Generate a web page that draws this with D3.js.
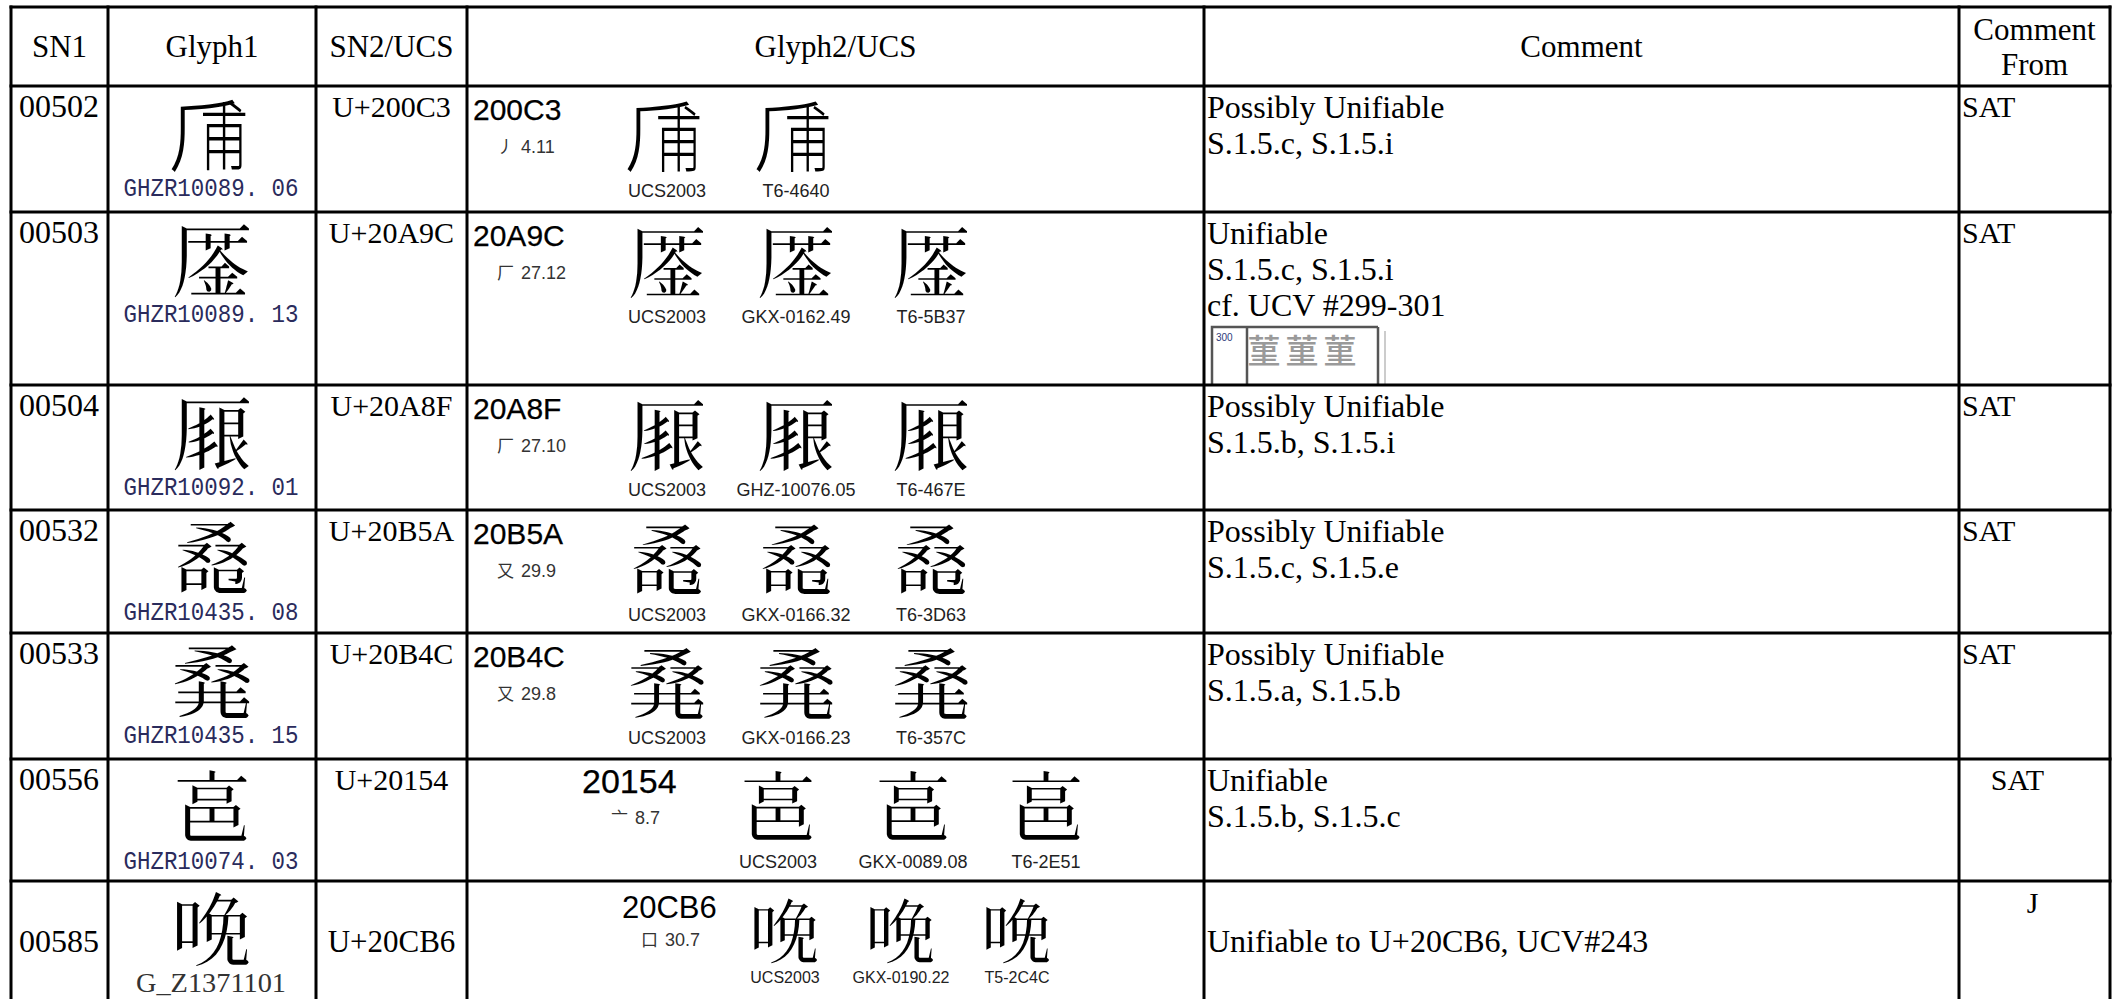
<!DOCTYPE html>
<html><head><meta charset="utf-8">
<script src="https://cdn.jsdelivr.net/npm/d3@7/dist/d3.min.js"></script>
<style>html,body{margin:0;padding:0;background:#fff}svg{display:block}</style>
</head><body>
<svg id="chart" width="2121" height="999"></svg>
<script>
// ---------------- DATA ----------------
const headers = ["SN1", "Glyph1", "SN2/UCS", "Glyph2/UCS", "Comment", "Comment|From"];
const sn1 = ["00502", "00503", "00504", "00532", "00533", "00556", "00585"];
const ucsCodes = [0x200C3, 0x20A9C, 0x20A8F, 0x20B5A, 0x20B4C, 0x20154, 0x20CB6];
const glyph1Sources = ["GHZR10089. 06", "GHZR10089. 13", "GHZR10092. 01", "GHZR10435. 08", "GHZR10435. 15", "GHZR10074. 03", "G_Z1371101"];
const radicalStrokes = [["丿", "4.11"], ["厂", "27.12"], ["厂", "27.10"], ["又", "29.9"], ["又", "29.8"], ["亠", "8.7"], ["口", "30.7"]];
const glyph2Sources = [
  ["UCS2003", "T6-4640"],
  ["UCS2003", "GKX-0162.49", "T6-5B37"],
  ["UCS2003", "GHZ-10076.05", "T6-467E"],
  ["UCS2003", "GKX-0166.32", "T6-3D63"],
  ["UCS2003", "GKX-0166.23", "T6-357C"],
  ["UCS2003", "GKX-0089.08", "T6-2E51"],
  ["UCS2003", "GKX-0190.22", "T5-2C4C"]
];
const comments = [
  ["Possibly Unifiable", "S.1.5.c, S.1.5.i"],
  ["Unifiable", "S.1.5.c, S.1.5.i", "cf. UCV #299-301"],
  ["Possibly Unifiable", "S.1.5.b, S.1.5.i"],
  ["Possibly Unifiable", "S.1.5.c, S.1.5.e"],
  ["Possibly Unifiable", "S.1.5.a, S.1.5.b"],
  ["Unifiable", "S.1.5.b, S.1.5.c"],
  ["Unifiable to U+20CB6, UCV#243"]
];
const commentFrom = ["SAT", "SAT", "SAT", "SAT", "SAT", "SAT", "J"];
const ucvSampleNumber = "300";
const ucvSampleGlyphs = ["菫", "菫", "菫"];
// U+200C3 is missing from the installed fonts: drawn from its components (cliff radical + 甫)
const glyphComponents = {0x200C3: ["⺁", "甫"]};

// ---------------- LAYOUT ----------------
const colEdges = [11, 108, 316, 467, 1204, 1959, 2110];
const rowEdges = [7, 86, 212, 385, 510, 633, 759, 881, 1003];
const SERIF = "'Liberation Serif','Times New Roman',serif";
const SANS = "'Liberation Sans',Arial,sans-serif";
const MONO = "'Liberation Mono','DejaVu Sans Mono',monospace";
const CJK = "'Noto Sans CJK TC','Noto Sans CJK SC','Noto Sans CJK JP','Noto Sans CJK KR',sans-serif";

const g2Layouts = {
  std: {code: 6, rad: 30, glyphs: [200, 329, 464], codeY: 34, radY: 67, glyphY: 46, labelY: 111, codeSize: 30, codeStroke: 0.25, glyphSize: 78, labelSize: 18},
  mid: {code: 115, rad: 144, glyphs: [311, 446, 579], codeY: 34, radY: 65, glyphY: 44, labelY: 109, codeSize: 34, codeStroke: 0.25, glyphSize: 78, labelSize: 18},
  low: {code: 155, rad: 174, glyphs: [318, 434, 550], codeY: 37, radY: 65, glyphY: 46, labelY: 102, codeSize: 31, codeStroke: 0, glyphSize: 70, labelSize: 16}
};
const g2Variant = ["std", "std", "std", "std", "std", "mid", "low"];
const middleRow = [false, false, false, false, false, false, true];

const svg = d3.select("#chart");
const x = d3.scaleLinear().domain(d3.range(colEdges.length)).range(colEdges);
const y = d3.scaleLinear().domain(d3.range(rowEdges.length)).range(rowEdges);
const rowMid = i => (y(i + 1) + Math.min(y(i + 2), 999)) / 2;
const colMid = c => (x(c) + x(c + 1)) / 2;

const rows = sn1.map((s, i) => ({
  i, sn1: s, code: ucsCodes[i], src1: glyph1Sources[i], rad: radicalStrokes[i],
  srcs: glyph2Sources[i], comment: comments[i], from: commentFrom[i]
}));

// draw one ideograph centred at (cx, cy)
function drawGlyph(sel, code, cx, cy, size) {
  const g = sel.append("g").attr("transform", `translate(${cx},${cy})`)
    .attr("font-family", CJK).attr("font-weight", 300).attr("fill", "#000");
  g.append("title").text(String.fromCodePoint(code));
  const parts = glyphComponents[code];
  if (!parts) {
    g.append("text").attr("text-anchor", "middle").attr("dominant-baseline", "central")
      .attr("font-size", size).text(String.fromCodePoint(code));
  } else {
    g.append("text").attr("text-anchor", "middle").attr("dominant-baseline", "central")
      .attr("font-size", size).attr("transform", `translate(${-size * 0.05},0)`).text(parts[0]);
    g.append("text").attr("text-anchor", "middle").attr("dominant-baseline", "central")
      .attr("font-size", size * 0.92)
      .attr("transform", `translate(${size * 0.15},${size * 0.03}) scale(0.66,1)`).text(parts[1]);
  }
}

// ---------------- HEADER ----------------
const head = svg.append("g").attr("font-family", SERIF).attr("font-size", 31).attr("fill", "#000");
headers.forEach((h, c) => {
  const lines = h.split("|");
  const t = head.append("text").attr("text-anchor", "middle");
  if (lines.length === 1) {
    t.attr("x", colMid(c)).attr("y", y(0) + 50).text(h);
  } else {
    lines.forEach((l, k) => t.append("tspan").attr("x", colMid(c)).attr("y", y(0) + 33 + k * 35).text(l));
  }
});

// ---------------- BODY ----------------
const body = svg.append("g");
const rg = body.selectAll("g.row").data(rows).join("g").attr("class", "row");

// SN1
rg.append("text")
  .attr("x", x(0) + 8)
  .attr("y", d => middleRow[d.i] ? rowMid(d.i) + 12 : y(d.i + 1) + 31)
  .attr("font-family", SERIF).attr("font-size", 32).text(d => d.sn1);

// Glyph1
rg.each(function(d) { drawGlyph(d3.select(this), d.code, colMid(1), y(d.i + 1) + 44, 80); });
rg.append("text")
  .attr("x", colMid(1) - 1).attr("y", d => y(d.i + 1) + (d.i === 6 ? 111 : 110))
  .attr("text-anchor", "middle")
  .attr("font-family", d => d.i === 6 ? SERIF : MONO)
  .attr("font-size", d => d.i === 6 ? 28 : 25)
  .attr("fill", d => d.i === 6 ? "#333" : "#2a2b5c")
  .attr("textLength", d => d.i === 6 ? 150 : 175)
  .attr("lengthAdjust", "spacingAndGlyphs")
  .text(d => d.src1);

// SN2/UCS
rg.append("text")
  .attr("x", colMid(2)).attr("text-anchor", "middle")
  .attr("y", d => middleRow[d.i] ? rowMid(d.i) + 12 : y(d.i + 1) + 31)
  .attr("font-family", SERIF).attr("font-size", d => middleRow[d.i] ? 31 : 30)
  .text(d => "U+" + d.code.toString(16).toUpperCase());

// Glyph2/UCS
rg.each(function(d) {
  const L = g2Layouts[g2Variant[d.i]];
  const g = d3.select(this).append("g").attr("transform", `translate(${x(3)},${y(d.i + 1)})`);
  g.append("text").attr("x", L.code).attr("y", L.codeY)
    .attr("font-family", SANS).attr("font-size", L.codeSize)
    .attr("stroke", "#000").attr("stroke-width", L.codeStroke)
    .text(d.code.toString(16).toUpperCase());
  const rt = g.append("text").attr("x", L.rad).attr("y", L.radY).attr("fill", "#333");
  rt.append("tspan").attr("font-family", CJK).attr("font-size", 17).text(d.rad[0]);
  rt.append("tspan").attr("dx", 7).attr("font-family", SANS).attr("font-size", 18).text(d.rad[1]);
  const slots = d.srcs.map((s, k) => ({s, cx: L.glyphs[k]}));
  slots.forEach(s => drawGlyph(g, d.code, s.cx, L.glyphY, L.glyphSize));
  g.selectAll("text.lab").data(slots).join("text").attr("class", "lab")
    .attr("x", s => s.cx).attr("y", L.labelY)
    .attr("text-anchor", "middle").attr("fill", "#222")
    .attr("font-family", SANS).attr("font-size", L.labelSize)
    .text(s => s.s);
});

// Comment
rg.append("text")
  .attr("font-family", SERIF).attr("font-size", 32)
  .each(function(d) {
    const t = d3.select(this);
    const y0 = middleRow[d.i] ? rowMid(d.i) + 12 : y(d.i + 1) + 32;
    d.comment.forEach((l, k) => t.append("tspan").attr("x", x(4) + 3).attr("y", y0 + k * 36).text(l));
  });

// Comment From
rg.append("text")
  .attr("font-family", SERIF).attr("font-size", 30)
  .attr("x", d => d.i === 5 ? colMid(5) - 17 : d.i === 6 ? colMid(5) - 2 : x(5) + 3)
  .attr("text-anchor", d => d.i >= 5 ? "middle" : "start")
  .attr("y", d => y(d.i + 1) + (d.i === 6 ? 32 : 31))
  .text(d => d.from);

// UCV sample snippet inside comment of row 00503
const snipTop = y(2) + 115, snipH = y(3) - snipTop;
const snip = svg.append("g").attr("transform", `translate(${x(4) + 8},${snipTop})`);
snip.append("path").attr("d", `M0,${snipH}V0H166M35,0V${snipH}M166,0V${snipH}`)
  .attr("fill", "none").attr("stroke", "#555").attr("stroke-width", 2.5);
snip.append("path").attr("d", `M173,4V${snipH}`).attr("stroke", "#bbb").attr("stroke-width", 1.5);
snip.append("text").attr("x", 4).attr("y", 14).attr("font-family", SANS).attr("font-size", 10)
  .attr("fill", "#2c3a7a").text(ucvSampleNumber);
snip.selectAll("text.uv").data(ucvSampleGlyphs).join("text").attr("class", "uv")
  .attr("x", (s, k) => 52 + k * 38).attr("y", 22).attr("text-anchor", "middle")
  .attr("dominant-baseline", "central").attr("font-family", CJK).attr("font-size", 33)
  .attr("fill", "#9a9a9a").attr("font-weight", 500).text(s => s);

// ---------------- GRID ----------------
const grid = svg.append("g").attr("stroke", "#000").attr("stroke-width", 3).attr("stroke-linecap", "square");
grid.selectAll("line.h").data(rowEdges).join("line").attr("class", "h")
  .attr("x1", x(0)).attr("x2", x(colEdges.length - 1)).attr("y1", r => r).attr("y2", r => r);
grid.selectAll("line.v").data(colEdges).join("line").attr("class", "v")
  .attr("x1", c => c).attr("x2", c => c).attr("y1", y(0)).attr("y2", y(rowEdges.length - 1));
</script>
</body></html>
